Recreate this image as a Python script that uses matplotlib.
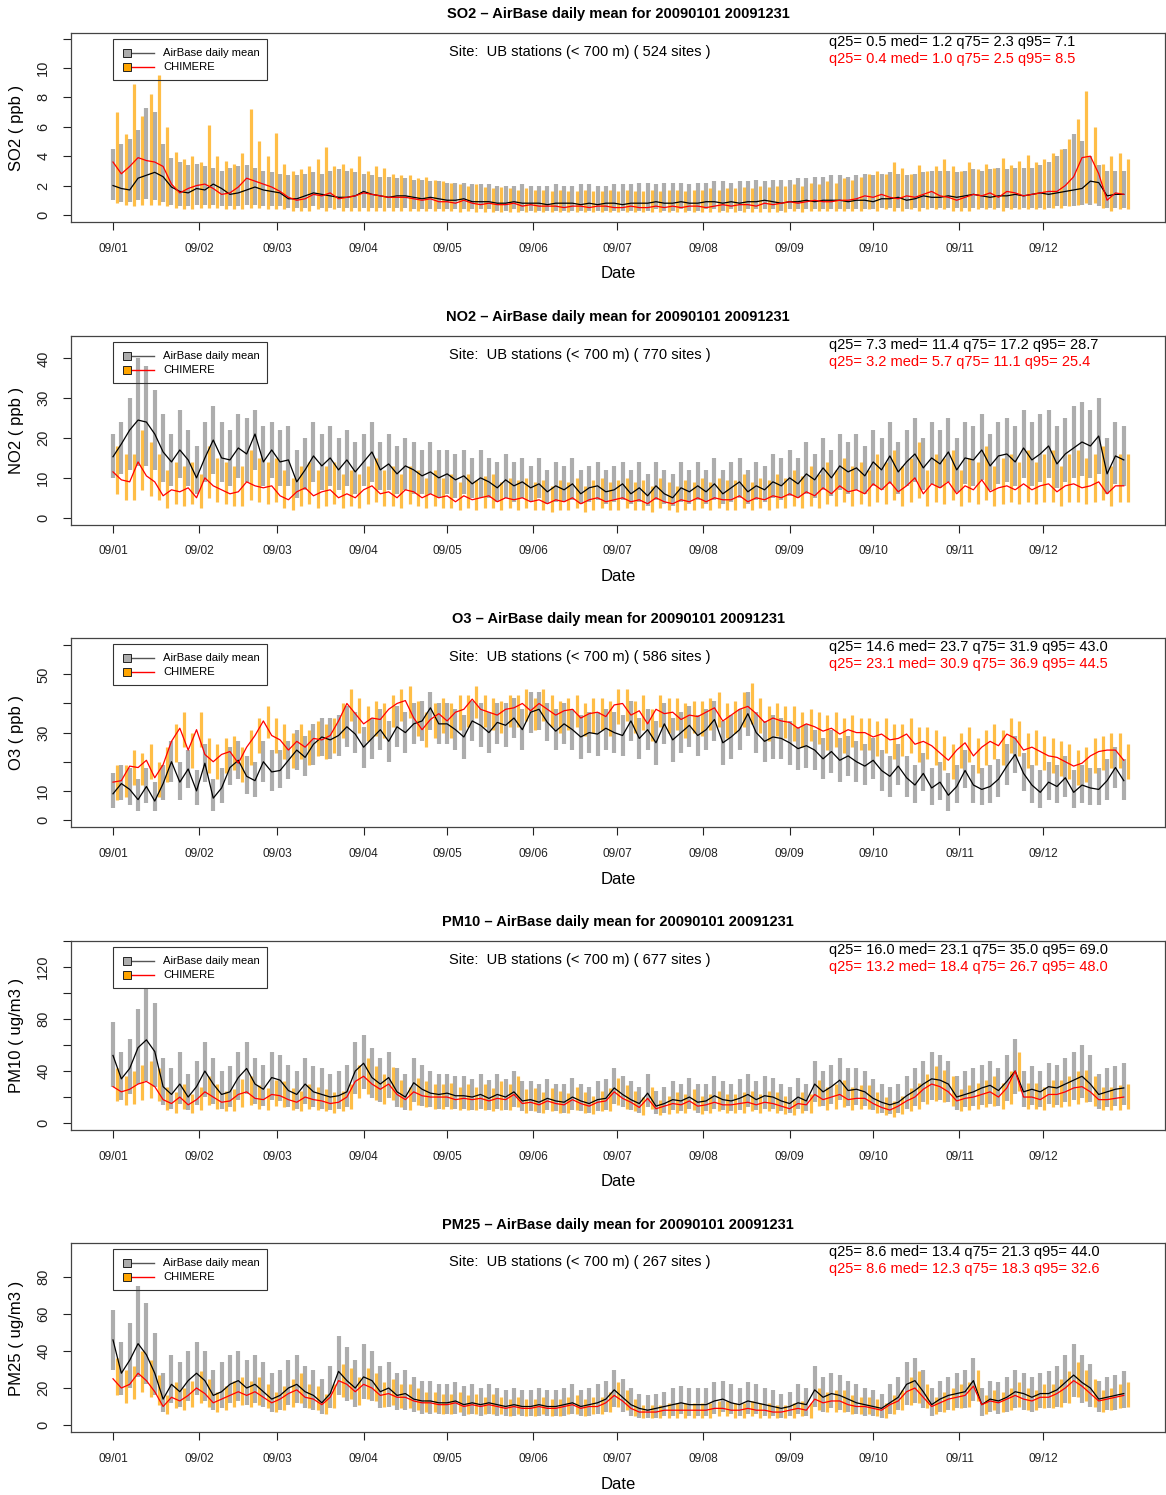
import numpy as np
import matplotlib
matplotlib.use("Agg")
from matplotlib import pyplot as plt
from matplotlib.patches import Rectangle
from matplotlib.lines import Line2D

plt.rcParams['font.family'] = ['Liberation Sans', 'DejaVu Sans']

# month starts (day of year) and labels
month_days = [0, 31, 59, 90, 120, 151, 181, 212, 243, 273, 304, 334]
month_labels = ['09/01', '09/02', '09/03', '09/04', '09/05', '09/06',
                '09/07', '09/08', '09/09', '09/10', '09/11', '09/12']
step_days = 3  # values read every 3 days from 1 Jan

# ---- SO2 ----
so2_obs_med = [2.0,1.8,1.7,2.5,2.7,2.9,2.6,1.9,1.6,1.5,
               1.8,1.7,2.1,1.8,1.4,1.5,1.7,1.9,1.7,1.6,
               1.5,1.1,1.1,1.3,1.5,1.4,1.3,1.2,1.2,1.3,
               1.6,1.4,1.3,1.2,1.3,1.3,1.2,1.1,1.2,1.1,
               1.0,1.0,1.1,0.9,0.9,0.9,0.8,0.8,0.9,0.8,
               0.8,0.8,0.7,0.8,0.8,0.8,0.7,0.8,0.7,0.8,
               0.8,0.7,0.8,0.8,0.8,0.9,0.8,0.8,0.9,0.8,
               0.8,0.9,0.9,0.8,0.9,0.8,0.9,0.9,1.0,0.9,
               0.8,0.9,0.9,1.0,0.9,1.0,1.0,1.0,0.9,1.0,
               1.0,0.9,1.1,1.1,1.2,1.0,1.1,1.3,1.2,1.2,
               1.3,1.2,1.3,1.4,1.3,1.2,1.3,1.3,1.4,1.3,
               1.4,1.5,1.4,1.5,1.6,1.7,1.8,2.3,2.2,1.3,
               1.4,1.4]
so2_mod_med = [3.6,2.8,3.3,3.9,3.7,3.6,3.3,2.1,1.5,1.8,
               2.0,2.1,1.8,1.4,1.5,1.9,2.5,2.3,2.1,1.9,
               1.6,1.2,1.0,1.1,1.4,1.3,1.5,1.1,1.2,1.3,
               1.5,1.4,1.3,1.2,1.2,1.2,1.1,1.0,1.1,0.9,
               0.9,0.8,1.0,0.8,0.7,0.8,0.7,0.7,0.8,0.6,
               0.7,0.6,0.6,0.6,0.5,0.6,0.6,0.5,0.6,0.6,
               0.5,0.5,0.6,0.5,0.5,0.6,0.5,0.6,0.5,0.6,
               0.6,0.5,0.6,0.7,0.6,0.7,0.7,0.6,0.8,0.7,
               0.8,0.9,0.8,0.9,1.0,0.9,0.9,1.0,1.0,1.1,
               1.3,1.2,1.4,1.2,1.1,1.3,1.2,1.4,1.6,1.3,
               1.2,1.0,1.2,1.4,1.3,1.5,1.2,1.6,1.5,1.3,
               1.4,1.5,1.6,1.6,2.0,2.6,3.9,4.0,2.8,1.0,
               1.5,1.4]
so2_obs_lo = [1.0,0.9,0.9,1.0,1.1,1.0,0.9,0.7,0.6,0.6,
              0.7,0.7,0.7,0.6,0.6,0.6,0.7,0.7,0.6,0.6,
              0.6,0.5,0.5,0.5,0.6,0.5,0.5,0.5,0.5,0.5,
              0.5,0.5,0.5,0.5,0.5,0.5,0.4,0.4,0.4,0.4,
              0.4,0.4,0.4,0.4,0.4,0.4,0.3,0.3,0.4,0.3,
              0.3,0.3,0.3,0.3,0.3,0.3,0.3,0.3,0.3,0.3,
              0.3,0.3,0.3,0.3,0.3,0.4,0.3,0.3,0.4,0.3,
              0.3,0.4,0.4,0.3,0.4,0.3,0.4,0.4,0.4,0.4,
              0.3,0.4,0.4,0.4,0.4,0.4,0.4,0.4,0.4,0.4,
              0.4,0.4,0.5,0.5,0.5,0.4,0.5,0.5,0.5,0.5,
              0.5,0.5,0.5,0.5,0.5,0.5,0.5,0.5,0.5,0.5,
              0.5,0.5,0.5,0.6,0.6,0.6,0.7,0.7,0.6,0.5,
              0.5,0.5]
so2_obs_hi = [4.5,4.8,5.2,5.8,7.3,7.0,4.8,3.9,3.6,3.4,
              3.5,3.3,3.2,3.0,3.2,3.3,3.4,3.2,3.0,2.9,
              2.8,2.7,2.7,2.8,2.9,2.8,3.0,3.1,3.0,2.9,
              2.8,2.7,2.6,2.6,2.5,2.5,2.4,2.4,2.3,2.3,
              2.2,2.2,2.2,2.1,2.1,2.1,2.0,2.0,2.0,2.1,
              2.0,2.0,2.0,2.1,2.0,2.0,2.1,2.1,2.0,2.0,
              2.1,2.1,2.1,2.2,2.2,2.1,2.2,2.2,2.2,2.1,
              2.2,2.2,2.3,2.3,2.2,2.3,2.3,2.4,2.3,2.4,
              2.4,2.4,2.5,2.5,2.6,2.6,2.7,2.7,2.6,2.7,
              2.8,2.7,2.8,2.9,2.8,2.7,2.8,2.9,3.0,3.0,
              3.0,2.9,3.0,3.1,3.0,3.1,3.2,3.1,3.2,3.2,
              3.2,3.4,3.6,4.0,4.5,5.5,5.0,4.0,3.4,3.0,
              3.0,3.0]
so2_mod_lo = [0.8,0.7,0.6,0.7,0.7,0.7,0.6,0.5,0.4,0.4,
              0.5,0.5,0.5,0.4,0.4,0.4,0.5,0.5,0.4,0.4,
              0.4,0.3,0.3,0.3,0.4,0.3,0.4,0.3,0.3,0.3,
              0.3,0.3,0.3,0.3,0.3,0.3,0.3,0.3,0.3,0.3,
              0.3,0.2,0.3,0.2,0.2,0.2,0.2,0.2,0.2,0.2,
              0.2,0.2,0.2,0.2,0.2,0.2,0.2,0.2,0.2,0.2,
              0.2,0.2,0.2,0.2,0.2,0.2,0.2,0.2,0.2,0.2,
              0.2,0.2,0.2,0.2,0.2,0.2,0.2,0.2,0.2,0.2,
              0.2,0.3,0.2,0.3,0.3,0.3,0.3,0.3,0.3,0.3,
              0.4,0.3,0.4,0.3,0.3,0.4,0.3,0.4,0.4,0.4,
              0.3,0.3,0.3,0.4,0.4,0.4,0.3,0.4,0.4,0.4,
              0.4,0.4,0.5,0.5,0.6,0.7,0.8,0.8,0.5,0.3,
              0.4,0.4]
so2_mod_hi = [7.0,5.5,8.9,6.7,8.2,9.5,6.0,4.3,3.8,4.0,
              3.6,6.1,4.0,3.7,3.5,4.2,7.2,5.0,4.0,5.6,
              3.5,3.0,3.1,3.3,3.8,4.6,3.3,3.5,3.2,4.0,
              3.0,3.3,3.2,2.8,2.7,2.7,2.5,2.6,2.4,2.3,
              2.2,2.1,2.0,2.1,1.9,1.8,1.9,1.8,1.7,1.8,
              1.7,1.7,1.6,1.7,1.6,1.6,1.7,1.6,1.6,1.7,
              1.6,1.7,1.6,1.6,1.7,1.6,1.7,1.7,1.6,1.7,
              1.7,1.8,1.7,1.8,1.8,1.9,1.8,2.0,1.9,2.0,
              2.0,2.1,2.0,2.2,2.1,2.3,2.2,2.5,2.4,2.6,
              2.8,3.0,2.8,3.6,3.2,2.8,3.4,3.0,3.3,3.8,
              3.3,3.0,3.6,3.1,3.5,3.2,3.9,3.4,3.7,4.1,
              3.6,3.8,4.2,4.5,5.2,6.5,8.4,6.0,3.5,4.0,
              4.2,3.8]

# ---- NO2 ----
no2_obs_med = [15.3,18.5,22.0,24.5,24.0,21.0,16.5,14.0,17.0,14.5,
               10.0,15.0,19.5,15.0,14.5,17.5,16.0,21.0,14.0,17.0,
               14.0,14.5,9.0,12.0,15.5,13.0,15.0,12.0,14.5,11.5,
               14.0,16.5,12.0,13.5,11.0,13.0,12.0,10.5,11.5,10.0,
               11.0,9.5,10.5,8.5,10.0,9.0,7.5,9.5,8.0,9.0,
               7.5,8.5,6.5,8.0,7.0,8.5,6.0,7.5,8.0,6.5,
               7.0,8.5,6.0,7.5,5.5,8.0,6.0,5.0,7.5,6.5,
               8.0,6.5,8.5,6.0,7.5,9.0,6.5,8.0,7.0,9.0,
               8.0,10.0,8.5,11.0,9.5,12.5,10.0,13.0,11.5,12.5,
               10.5,14.0,12.0,15.5,11.5,14.0,16.0,12.5,15.0,13.5,
               16.5,12.0,15.0,14.5,17.0,13.0,15.5,16.0,14.0,17.5,
               14.5,16.0,18.0,13.5,16.0,17.5,19.0,18.0,20.5,11.0,
               15.5,14.5]
no2_mod_med = [11.5,9.5,9.0,14.0,10.5,9.0,5.5,7.0,6.5,7.5,
               5.0,10.0,8.0,7.0,6.0,6.5,9.0,8.0,7.5,8.0,
               5.5,4.5,6.5,7.5,5.5,6.5,7.0,5.0,6.0,5.0,
               7.0,8.0,6.0,6.5,5.0,7.0,6.5,5.0,6.0,5.0,
               5.5,4.0,5.5,4.5,5.0,5.5,4.0,5.0,4.5,5.0,
               4.0,4.5,3.5,4.5,4.0,5.0,3.5,4.5,5.0,4.0,
               4.5,5.0,4.0,4.5,3.5,5.0,4.0,3.5,4.5,4.0,
               5.0,4.0,5.0,4.5,4.5,5.5,4.0,5.0,4.5,5.5,
               5.0,6.0,5.0,6.5,5.5,7.5,6.0,8.0,6.5,7.0,
               6.0,8.5,7.0,9.0,6.5,8.0,10.0,6.0,8.5,7.5,
               9.0,6.0,8.0,7.0,9.5,6.5,7.5,8.0,7.0,8.5,
               7.0,8.0,8.5,6.5,8.0,8.5,7.5,8.0,9.0,6.0,
               8.0,8.0]
no2_obs_lo = [10,11,12,13,13,12,9,8,10,8,
              6,9,11,9,8,10,9,12,8,10,
              8,8,5,7,9,7,8,7,8,6,
              8,9,7,7,6,7,6,6,6,5,
              6,5,6,5,5,5,4,5,4,5,
              4,5,3.5,4,4,4.5,3.5,4,4.5,3.5,
              4,4.5,3.5,4,3,4.5,3.5,3,4,3.5,
              4.5,3.5,4.5,3.5,4,5,3.5,4.5,4,5,
              4.5,5.5,5,6,5,7,5.5,7,6,7,
              6,8,7,8.5,6,8,9,7,8.5,7.5,
              9,6.5,8.5,8,9.5,7,8.5,9,8,10,
              8,9,10,7.5,9,10,10.5,10,11,6,
              8.5,8]
no2_obs_hi = [21,24,30,40,38,32,26,21,27,22,
              18,24,28,24,22,26,25,27,23,24,
              22,23,17,20,24,21,23,20,22,19,
              21,24,19,21,18,20,19,17,19,17,
              17,16,17,15,17,15,14,16,14,15,
              13,15,12,14,13,15,12,13,14,12,
              13,14,12,14,11,14,12,11,14,12,
              14,12,15,12,14,15,12,14,13,16,
              15,17,15,19,16,20,17,21,19,21,
              18,22,20,24,19,22,25,20,24,22,
              25,20,24,23,26,21,24,25,23,27,
              24,26,27,23,25,28,29,27,30,20,
              24,23]
no2_mod_lo = [6,4.5,4.5,7,5.5,4.5,2.5,3.5,3,3.5,
              2.5,5,4,3.5,3,3,4.5,4,3.5,4,
              2.5,2,3,3.5,2.5,3,3.5,2.5,3,2.5,
              3.5,4,3,3,2.5,3.5,3,2.5,3,2.5,
              2.5,2,2.5,2,2.5,2.5,2,2.5,2,2.5,
              2,2,1.5,2,2,2.5,1.5,2,2.5,2,
              2,2.5,2,2,1.5,2.5,2,1.5,2,2,
              2.5,2,2.5,2,2,2.5,2,2.5,2,2.5,
              2.5,3,2.5,3,2.5,3.5,3,4,3,3.5,
              3,4,3.5,4.5,3,4,5,3,4,3.5,
              4.5,3,4,3.5,4.5,3,3.5,4,3.5,4,
              3.5,4,4,3,4,4,3.5,4,4.5,3,
              4,4]
no2_mod_hi = [18,16,16,22,19,16,12,14,13,14,
              11,18,15,14,13,13,17,15,14,15,
              12,10,13,14,12,13,14,11,12,11,
              13,15,12,13,11,13,12,10,12,10,
              11,9,11,9.5,10.5,11,9,10,9.5,10,
              9,9.5,8,9.5,9,10,8,9.5,10,9,
              9.5,10,9,9.5,8,10,9,8,9.5,9,
              10,9,10,9.5,9.5,11,9,10,9.5,11,
              10,12,10.5,13,11,14,12,15,13,14,
              12,16,14,17,13,15,19,12,16,15,
              17,12,15,14,18,13,15,16,14,17,
              14,16,17,13,16,17,15,16,18,13,
              16,16]

# ---- O3 ----
o3_obs_med = [9.0,12.5,10.5,7.0,11.5,6.5,12.5,20.0,13.0,17.5,
              10.0,19.5,7.5,11.0,18.0,20.5,15.0,13.5,20.0,16.5,
              17.0,20.5,24.0,21.5,26.0,28.5,27.5,29.0,32.0,29.5,
              25.0,28.0,31.0,27.0,32.0,30.0,33.0,34.0,38.5,33.0,
              33.0,31.0,28.5,34.0,32.5,30.0,33.5,32.5,35.0,31.0,
              37.0,38.0,33.5,30.5,33.0,31.0,28.5,30.0,29.5,31.5,
              30.0,29.0,34.0,28.0,31.0,26.5,33.0,27.5,30.0,32.5,
              29.0,31.0,34.5,26.5,28.5,31.0,36.5,30.0,27.0,28.5,
              28.0,26.5,24.5,25.5,24.0,21.0,23.5,20.5,22.0,20.0,
              18.5,20.5,17.0,15.0,18.5,14.5,12.0,16.0,11.0,13.0,
              8.5,11.5,17.0,12.0,10.5,11.5,14.0,18.5,22.5,16.0,
              12.0,9.5,13.0,11.5,14.5,9.5,12.0,11.0,10.5,13.5,
              18.0,13.5]
o3_mod_med = [13.0,13.5,18.5,18.0,20.5,14.5,19.0,27.0,31.5,24.0,
              31.0,22.5,20.0,22.5,23.5,19.5,25.0,29.0,34.0,29.0,
              27.5,24.0,27.0,25.0,28.0,27.5,29.0,34.0,40.0,36.5,
              33.0,35.0,34.5,38.0,40.0,41.0,35.0,31.0,34.5,36.5,
              34.0,37.0,38.0,41.5,38.0,37.0,36.0,38.0,38.5,40.0,
              37.5,40.0,38.0,36.0,37.5,38.0,35.0,36.5,37.0,35.5,
              39.5,40.0,36.0,37.5,33.0,38.0,36.5,37.0,34.5,36.0,
              35.5,37.0,38.5,34.0,36.0,38.0,39.0,36.5,33.5,35.0,
              34.0,33.5,31.5,33.0,32.0,30.5,31.5,29.5,31.0,30.0,
              30.0,28.5,29.5,27.5,28.0,29.5,26.0,27.0,25.5,23.0,
              20.5,24.0,26.5,22.0,25.0,27.0,25.5,29.5,28.0,24.0,
              25.0,23.5,22.0,21.5,20.0,18.5,19.5,22.0,23.5,24.0,
              24.0,20.5]
o3_obs_lo = [4,7,5,3,6,3,7,13,7,11,
             5,13,3,6,12,14,9,8,13,10,
             11,14,17,15,19,22,21,22,25,23,
             18,21,24,20,25,23,26,27,31,26,
             26,24,21,27,25,23,26,25,28,24,
             30,31,27,24,26,24,21,23,22,24,
             23,22,27,21,24,19,26,20,23,25,
             22,24,27,19,21,24,29,23,20,21,
             21,19,17,18,17,14,16,13,15,13,
             12,14,10,8,12,8,6,10,5,7,
             3,6,11,6,5,6,8,12,16,10,
             6,4,7,6,8,4,6,5,5,7,
             11,7]
o3_obs_hi = [16,19,18,14,18,13,19,27,20,24,
             17,26,14,18,25,27,22,20,27,24,
             24,27,31,29,33,35,35,36,39,37,
             32,35,38,34,39,37,40,41,44,40,
             40,38,36,41,40,37,40,40,42,38,
             44,44,40,38,40,38,36,37,37,38,
             37,36,41,35,38,34,40,35,37,39,
             36,38,41,34,36,38,44,37,34,36,
             35,34,32,33,31,28,31,28,29,27,
             26,28,24,22,26,22,19,23,18,20,
             16,19,24,19,18,19,21,26,29,23,
             19,17,20,19,22,17,19,18,18,21,
             25,21]
o3_mod_lo = [7,8,12,12,14,8,13,20,25,18,
             25,16,14,16,17,13,19,23,28,23,
             21,18,21,19,22,21,23,28,34,30,
             27,29,28,32,34,35,29,25,28,30,
             28,31,32,35,32,31,30,32,32,34,
             31,34,32,30,31,32,29,30,31,29,
             33,34,30,31,27,32,30,31,28,30,
             29,31,32,28,30,32,33,30,27,29,
             28,27,25,27,26,24,25,23,25,24,
             24,22,23,21,22,23,20,21,19,17,
             14,18,20,16,19,21,19,23,22,18,
             19,17,16,15,14,12,13,16,17,18,
             18,14]
o3_mod_hi = [19,19,24,23,26,20,25,33,37,30,
             37,28,26,28,29,25,31,35,39,35,
             33,30,33,31,34,33,35,40,45,42,
             39,41,40,43,45,46,41,37,40,42,
             40,43,43,46,43,42,41,43,43,45,
             42,45,43,41,42,43,40,42,42,41,
             45,45,41,43,38,43,42,42,40,41,
             41,42,44,40,41,44,47,42,39,40,
             39,39,37,38,37,36,37,35,36,35,
             35,34,35,33,33,35,32,32,31,29,
             26,30,32,28,31,33,31,35,34,30,
             31,29,28,27,26,24,25,28,29,30,
             30,26]

# ---- PM10 ----
pm10_obs_med = [52,34,42,58,64,55,28,22,30,20,
                28,40,30,22,24,35,42,30,26,35,
                33,25,22,30,24,22,20,21,24,40,
                46,35,30,35,24,20,31,26,23,22,
                23,21,21,20,22,19,22,20,24,17,
                18,16,19,17,16,20,17,15,18,19,
                27,22,18,15,23,13,15,18,17,20,
                16,17,21,18,17,19,22,18,21,20,
                17,15,20,17,30,24,28,33,25,26,
                24,19,16,14,16,21,25,30,34,33,
                30,20,22,24,27,29,25,32,40,24,
                26,24,28,27,30,33,36,30,22,24,
                26,27]
pm10_mod_med = [28,24,26,30,32,28,18,15,20,14,
                18,24,20,16,17,22,24,19,18,22,
                21,18,16,20,18,17,15,16,20,32,
                36,30,26,30,22,18,24,21,20,20,
                20,18,19,18,19,17,19,18,22,15,
                16,14,17,15,14,18,15,13,16,17,
                24,19,16,12,19,11,13,15,14,17,
                13,14,16,14,14,15,16,14,16,15,
                13,11,15,14,22,18,20,22,18,19,
                19,15,12,10,13,17,20,26,30,28,
                24,17,19,20,22,24,20,27,40,20,
                20,18,22,22,24,27,28,24,18,18,
                19,20]
pm10_obs_lo = [28,18,22,30,32,28,14,11,15,10,
               14,20,15,11,12,18,22,15,13,18,
               17,12,11,15,12,11,10,11,12,22,
               26,19,16,19,12,10,16,13,12,11,
               12,11,11,10,11,10,11,10,12,9,
               9,8,10,9,8,10,9,8,9,10,
               15,12,10,8,12,7,8,10,9,11,
               8,9,11,10,9,10,12,10,11,11,
               9,8,11,9,16,13,15,18,13,14,
               13,10,8,7,8,11,13,16,18,18,
               16,10,12,13,14,15,13,17,22,12,
               14,12,15,14,16,18,19,16,11,12,
               13,14]
pm10_obs_hi = [78,55,65,88,104,92,50,42,55,38,
               48,62,50,40,44,55,62,50,45,55,
               52,45,40,50,44,42,38,40,45,62,
               68,58,50,55,42,38,50,45,40,38,
               38,36,36,34,38,33,38,34,40,32,
               32,30,34,30,30,35,30,28,32,34,
               42,36,32,28,38,25,28,32,30,35,
               30,30,36,32,30,34,38,32,36,35,
               30,28,35,30,48,40,45,50,42,42,
               40,34,30,28,30,36,42,48,55,52,
               48,36,40,42,45,48,42,52,65,40,
               44,40,46,45,50,55,60,52,38,42,
               44,46]
pm10_mod_lo = [17,14,15,18,19,17,10,8,11,8,
               10,14,11,9,9,12,14,11,10,13,
               12,10,9,11,10,9,8,9,11,19,
               22,18,15,18,12,10,14,12,11,11,
               11,10,10,10,10,9,10,10,12,8,
               9,8,9,8,8,10,8,7,9,9,
               14,11,9,6,11,6,7,8,8,10,
               7,8,9,8,8,8,9,8,9,8,
               7,6,8,8,13,10,11,12,10,11,
               11,8,6,5,7,9,11,15,17,16,
               13,9,10,11,12,13,11,15,25,11,
               11,10,12,12,13,15,16,13,10,10,
               10,11]
pm10_mod_hi = [42,36,40,45,48,42,28,24,30,22,
               28,36,30,25,26,34,36,29,27,33,
               32,27,25,30,28,26,24,25,30,45,
               50,44,38,43,33,28,35,32,30,30,
               31,28,30,28,30,27,32,30,36,26,
               27,24,27,25,23,28,24,21,25,27,
               35,29,25,20,28,18,21,24,22,26,
               21,22,25,22,22,24,25,22,25,24,
               21,18,24,22,33,28,30,33,28,29,
               29,24,20,17,21,27,31,38,44,41,
               36,26,29,31,33,36,31,40,55,31,
               31,28,33,33,36,40,41,36,28,28,
               29,30]

# ---- PM25 ----
pm25_obs_med = [46,28,35,44,38,28,14,22,18,24,
                28,24,16,18,22,24,20,22,18,14,
                16,20,22,18,16,12,17,29,24,20,
                26,24,18,20,16,17,14,13,13,12,
                12,13,11,12,11,12,11,10,11,10,
                10,11,10,10,11,12,10,11,12,14,
                19,15,11,9,8,9,10,11,12,11,
                11,11,13,14,12,11,13,12,11,10,
                9,10,12,11,19,15,17,16,14,12,
                11,10,9,12,15,22,24,18,11,14,
                16,17,18,24,11,14,13,15,18,17,
                15,17,17,19,23,27,23,20,14,15,
                16,17]
pm25_mod_med = [25,20,22,28,24,18,10,15,13,16,
                20,17,12,14,16,18,16,18,15,12,
                14,17,19,15,14,11,15,24,22,18,
                22,20,16,17,15,15,13,12,12,11,
                11,12,10,11,10,11,10,9,10,9,
                9,10,9,9,10,11,9,10,10,12,
                16,13,9,7,7,7,8,8,8,8,
                8,8,9,9,8,8,9,8,8,7,
                7,8,9,8,14,12,13,13,11,10,
                10,9,8,11,13,18,20,15,10,12,
                14,15,16,21,11,13,12,14,16,14,
                13,15,15,17,20,24,21,17,13,14,
                15,16]
pm25_obs_lo = [30,16,20,26,22,16,7,12,10,13,
               16,13,8,9,12,13,11,12,10,7,
               8,11,12,9,8,6,9,16,13,10,
               14,13,9,10,8,8,7,6,6,6,
               6,6,5,6,5,6,5,5,5,5,
               5,5,5,5,5,6,5,5,6,7,
               10,7,5,4,4,4,5,5,6,5,
               5,5,6,7,6,5,6,6,5,5,
               4,5,6,5,10,7,9,8,7,6,
               5,5,4,6,8,11,12,9,5,7,
               8,9,9,13,5,7,6,7,9,8,
               7,9,9,10,12,15,12,10,7,8,
               8,9]
pm25_obs_hi = [62,45,55,75,66,50,28,38,34,40,
               45,40,30,34,38,40,35,38,34,28,
               30,35,38,32,30,25,32,48,42,35,
               44,40,32,34,28,30,26,24,24,22,
               22,23,21,22,20,22,20,19,20,19,
               19,20,19,19,20,22,19,20,22,24,
               30,25,20,17,16,17,18,20,21,20,
               20,20,23,24,22,20,23,22,20,19,
               17,18,22,20,32,26,28,27,24,22,
               20,19,17,22,26,34,36,30,20,24,
               26,28,30,36,20,24,23,26,30,28,
               26,28,29,32,38,44,38,33,24,26,
               27,29]
pm25_mod_lo = [16,12,14,18,15,11,6,9,8,10,
               12,10,7,8,10,11,10,11,9,7,
               8,10,12,9,8,6,9,15,14,11,
               14,13,10,11,9,9,8,7,7,6,
               6,7,6,6,6,6,6,5,6,5,
               5,6,5,5,6,6,5,6,6,7,
               10,8,5,4,4,4,4,4,4,4,
               4,4,5,5,4,4,5,4,4,4,
               4,4,5,4,8,7,7,7,6,6,
               6,5,4,6,8,11,12,9,6,7,
               8,9,10,13,6,8,7,8,10,8,
               8,9,9,10,12,15,13,10,7,8,
               9,10]
pm25_mod_hi = [36,30,32,40,35,27,16,23,20,24,
               29,25,18,21,24,26,24,26,22,18,
               21,25,28,22,21,17,22,33,31,26,
               31,28,23,25,22,22,20,18,18,17,
               17,18,16,17,15,17,15,14,15,14,
               14,15,14,14,15,16,14,15,15,18,
               23,19,14,11,11,11,12,12,12,12,
               12,12,13,13,12,12,13,12,12,11,
               11,12,13,12,20,18,19,19,16,15,
               15,14,12,16,19,26,29,22,15,18,
               20,22,23,30,16,19,18,20,23,20,
               19,22,22,25,29,34,30,25,19,20,
               22,23]

# summary statistics printed in the panels (q25, med, q75, q95)
so2_obs_q, so2_mod_q = [0.5, 1.2, 2.3, 7.1], [0.4, 1.0, 2.5, 8.5]
no2_obs_q, no2_mod_q = [7.3, 11.4, 17.2, 28.7], [3.2, 5.7, 11.1, 25.4]
o3_obs_q, o3_mod_q = [14.6, 23.7, 31.9, 43.0], [23.1, 30.9, 36.9, 44.5]
pm10_obs_q, pm10_mod_q = [16.0, 23.1, 35.0, 69.0], [13.2, 18.4, 26.7, 48.0]
pm25_obs_q, pm25_mod_q = [8.6, 13.4, 21.3, 44.0], [8.6, 12.3, 18.3, 32.6]

species = ['SO2', 'NO2', 'O3', 'PM10', 'PM25']
units = ['ppb', 'ppb', 'ppb', 'ug/m3', 'ug/m3']
n_sites = [524, 770, 586, 677, 267]

panels = [
    dict(obs=(so2_obs_lo, so2_obs_med, so2_obs_hi), mod=(so2_mod_lo, so2_mod_med, so2_mod_hi),
         q=(so2_obs_q, so2_mod_q), ylim=(-0.48, 12.38),
         ticks=[0, 2, 4, 6, 8, 10, 12], labels=['0', '2', '4', '6', '8', '10', '']),
    dict(obs=(no2_obs_lo, no2_obs_med, no2_obs_hi), mod=(no2_mod_lo, no2_mod_med, no2_mod_hi),
         q=(no2_obs_q, no2_mod_q), ylim=(-1.73, 45.7),
         ticks=[0, 10, 20, 30, 40], labels=['0', '10', '20', '30', '40']),
    dict(obs=(o3_obs_lo, o3_obs_med, o3_obs_hi), mod=(o3_mod_lo, o3_mod_med, o3_mod_hi),
         q=(o3_obs_q, o3_mod_q), ylim=(-2.47, 62.4),
         ticks=[0, 10, 20, 30, 40, 50, 60], labels=['0', '10', '', '30', '', '50', '']),
    dict(obs=(pm10_obs_lo, pm10_obs_med, pm10_obs_hi), mod=(pm10_mod_lo, pm10_mod_med, pm10_mod_hi),
         q=(pm10_obs_q, pm10_mod_q), ylim=(-5.2, 140.2),
         ticks=[0, 20, 40, 60, 80, 100, 120, 140], labels=['0', '', '40', '', '80', '', '120', '']),
    dict(obs=(pm25_obs_lo, pm25_obs_med, pm25_obs_hi), mod=(pm25_mod_lo, pm25_mod_med, pm25_mod_hi),
         q=(pm25_obs_q, pm25_mod_q), ylim=(-4.0, 98.2),
         ticks=[0, 20, 40, 60, 80], labels=['0', '20', '40', '60', '80']),
]

GREY = '#ADADAD'
ORANGE = '#FFA500'

W, H = 1166, 1495
fig = plt.figure(figsize=(W / 100, H / 100), dpi=100)

ax_left, ax_right = 71, 1165
panel_top0, panel_h, panel_gap = 33, 189, 302.6


def draw_legend(ax):
    ax.add_patch(Rectangle((0.0384, 0.751), 0.1408, 0.217, transform=ax.transAxes,
                           fill=False, edgecolor='#333333', lw=0.8, zorder=6))
    entries = [(GREY, '#555555', 'AirBase daily mean'), (ORANGE, 'red', 'CHIMERE')]
    for i, (fc, lc, label) in enumerate(entries):
        yy = 0.894 - i * 0.074
        ax.add_line(Line2D([0.0548, 0.0759], [yy, yy], transform=ax.transAxes,
                           color=lc, lw=1.0, zorder=6))
        ax.add_patch(Rectangle((0.0475, yy - 0.021), 0.0073, 0.042, transform=ax.transAxes,
                               facecolor=fc, edgecolor='#222222', lw=0.7, zorder=7))
        ax.text(0.0841, yy, label, transform=ax.transAxes, va='center', ha='left',
                fontsize=8.1, zorder=7)


for k, p in enumerate(panels):
    top = panel_top0 + k * panel_gap
    ax = fig.add_axes([ax_left / W, 1 - (top + panel_h) / H,
                       (ax_right - ax_left) / W, panel_h / H])

    for series in p['obs'] + p['mod']:
        assert len(series) == 122, (species[k], len(series))
    days = np.arange(122) * step_days

    olo, omed, ohi = p['obs']
    mlo, mmed, mhi = p['mod']
    # grey = observations, orange = model, one pair of bars per sampled day
    ax.vlines(days, olo, ohi, colors=GREY, linewidth=3.0, zorder=2)
    ax.vlines(days + 1.5, mlo, mhi, colors=ORANGE, linewidth=2.3, alpha=0.72, zorder=3)
    ax.plot(days, omed, color='black', lw=0.9, zorder=4)
    ax.plot(days, mmed, color='red', lw=0.9, zorder=5)

    ax.set_xlim(-15.08, 377.8)
    ax.set_ylim(*p['ylim'])
    ax.set_xticks(month_days)
    ax.set_xticklabels(month_labels, fontsize=8.6)
    ax.set_yticks(p['ticks'])
    ax.set_yticklabels(p['labels'], rotation=90, va='center', fontsize=10.5)
    ax.tick_params(axis='x', direction='out', length=6, width=0.8, pad=9, colors='#222222')
    ax.tick_params(axis='y', direction='out', length=6, width=0.8, pad=9, colors='#222222')
    for s in ax.spines.values():
        s.set_linewidth(0.9)
        s.set_color('#444444')

    name = species[k]
    ax.text(0.5, 1.1, f'{name} \u2013 AirBase daily mean for 20090101 20091231',
            transform=ax.transAxes, ha='center', va='center', fontsize=10.5, fontweight='bold')
    ax.text(0.5, -0.275, 'Date', transform=ax.transAxes, ha='center', va='center', fontsize=12)
    ax.text(-0.0494, 0.5, f'{name} ( {units[k]} )', transform=ax.transAxes, rotation=90,
            ha='center', va='center', fontsize=12)

    ax.text(0.3455, 0.899, f'Site:  UB stations (< 700 m) ( {n_sites[k]} sites )',
            transform=ax.transAxes, ha='left', va='center', fontsize=10.5)
    for j, (qs, col) in enumerate(zip(p['q'], ['black', 'red'])):
        txt = 'q25= %.1f med= %.1f q75= %.1f q95= %.1f' % tuple(qs)
        ax.text(0.693, 0.952 - j * 0.09, txt, transform=ax.transAxes, ha='left',
                va='center', fontsize=10.5, color=col)

    draw_legend(ax)

fig.savefig('out.png', dpi=100)
